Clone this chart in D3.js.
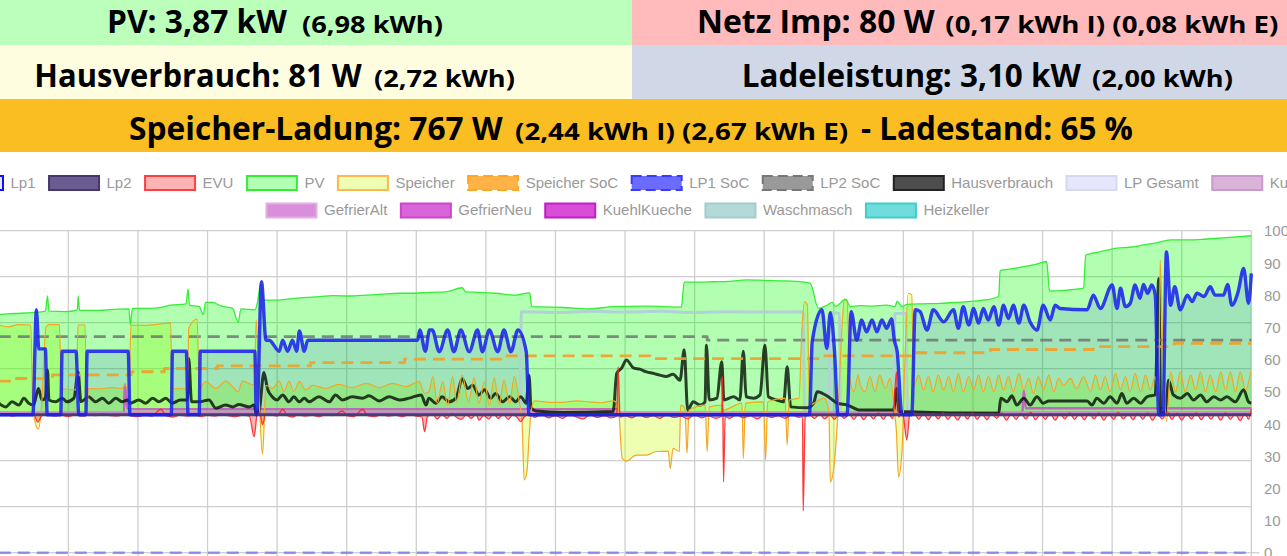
<!DOCTYPE html>
<html><head><meta charset="utf-8">
<script src="https://cdn.jsdelivr.net/npm/d3@7"></script>
<style>html,body{margin:0;padding:0;background:#fff;overflow:hidden}</style>
</head><body>
<svg id="c" width="1287" height="556"></svg>
<script>
// ---------------- DATA ----------------
const headerBig = ["PV: 3,87 kW", "Netz Imp: 80 W", "Hausverbrauch: 81 W", "Ladeleistung: 3,10 kW", "Speicher-Ladung: 767 W"];
const headerSmall = ["(6,98 kWh)", "(0,17 kWh I) (0,08 kWh E)", "(2,72 kWh)", "(2,00 kWh)", "(2,44 kWh I) (2,67 kWh E)"];
const headerTail = ["", "", "", "", "- Ladestand: 65 %"];

const legendNames = ["Lp1","Lp2","EVU","PV","Speicher","Speicher SoC","LP1 SoC","LP2 SoC","Hausverbrauch","LP Gesamt","Kuehlschrank","GefrierAlt","GefrierNeu","KuehlKueche","Waschmasch","Heizkeller"];

const timeTicks = [0,10,20,30,40,50,60,70,80,90,100,110,120,130,140,150,160,170,180];
const powerTicks = [-3,-2,-1,0,1,2,3,4];
const socTicks = [0,10,20,30,40,50,60,70,80,90,100];

// [minute, kW]
const pv = [[0,2.18],[2.4,2.20],[4.8,2.22],[6.7,2.25],[7.0,2.58],[7.2,2.25],[9.6,2.24],[11.3,2.28],[11.4,2.58],[11.6,2.27],[14.4,2.27],[16.5,2.29],[18.7,2.30],[18.9,1.95],[19.2,2.31],[21.6,2.31],[23.5,2.34],[24.7,2.38],[26.9,2.41],[27.2,2.73],[27.4,2.38],[28.8,2.35],[29.4,2.18],[29.7,2.44],[30.7,2.44],[32.0,2.36],[33.6,2.31],[34.4,2.01],[34.8,2.30],[36.8,2.28],[37.2,2.46],[37.6,2.83],[38.1,2.49],[39.8,2.49],[43.2,2.54],[45.5,2.56],[48.0,2.59],[50.5,2.58],[52.8,2.60],[55.0,2.62],[57.6,2.64],[59.8,2.64],[61.9,2.66],[64.2,2.67],[66.6,2.76],[67.1,2.67],[69.0,2.66],[71.4,2.64],[74.3,2.60],[76.3,2.65],[76.6,2.35],[79.0,2.34],[81.1,2.33],[84.9,2.30],[88.3,2.35],[93.1,2.36],[98.1,2.34],[98.5,2.88],[100.5,2.88],[102.7,2.89],[105.0,2.90],[107.5,2.93],[110.0,2.92],[112.3,2.91],[114.5,2.90],[116.6,2.86],[117.8,2.31],[119.0,2.38],[119.8,2.44],[120.2,2.35],[121.7,2.51],[122.4,2.35],[123.8,2.37],[125.5,2.36],[127.6,2.38],[128.8,2.35],[129.1,2.47],[129.8,2.35],[130.5,2.40],[133.0,2.41],[135.3,2.42],[137.5,2.44],[140.1,2.47],[142.0,2.50],[143.7,2.57],[143.9,3.13],[145.5,3.17],[147.3,3.22],[149.0,3.27],[150.6,3.33],[151.0,2.69],[153.5,2.71],[155.9,2.75],[156.2,3.47],[158.5,3.55],[160.7,3.62],[162.5,3.64],[164.5,3.69],[166.5,3.74],[168.4,3.80],[171.0,3.80],[173.6,3.82],[176.5,3.85],[180,3.89]];

const lp1 = [[0,0],[4.9,0],[5.4,2.28],[5.75,1.43],[6.7,1.43],[6.95,0],[8.9,0],[9.1,1.38],[11.1,1.38],[11.5,0],[12.5,0],[12.7,1.38],[18.6,1.38],[18.85,0],[24.8,0],[24.95,1.38],[26.95,1.38],[27.2,0],[28.8,0],[28.95,1.38],[36.8,1.38],[37.0,0],[37.2,0.3],[37.75,2.89],[38.4,1.62],[38.85,1.62],[40.3,1.38],[40.8,1.62],[41.5,1.38],[42.2,1.62],[42.8,1.38],[43.2,1.82],[43.9,1.38],[44.4,1.62],[60.2,1.62],[60.5,1.84],[61.3,1.38],[61.9,1.84],[62.3,1.84],[63.3,1.37],[64.5,1.84],[65.4,1.37],[66.4,1.84],[67.6,1.37],[68.8,1.84],[69.5,1.37],[70.5,1.84],[71.7,1.37],[72.6,1.84],[73.6,1.37],[74.6,1.84],[75.8,1.37],[76.2,0],[116.5,0],[116.9,1.59],[118.3,2.28],[119.0,1.44],[119.5,2.22],[120.1,1.38],[120.6,0],[121.9,0],[122.5,2.24],[123.3,1.62],[124.0,2.06],[124.7,1.80],[125.5,2.06],[126.2,1.80],[126.9,2.06],[127.6,1.88],[128.3,2.08],[128.7,1.62],[129.1,1.38],[129.8,0],[131.2,0],[131.7,2.28],[132.4,2.24],[133.4,1.84],[134.3,2.28],[135.8,2.02],[137.2,2.28],[137.9,1.88],[138.6,2.35],[139.4,1.95],[140.1,2.31],[140.8,1.99],[141.5,2.31],[142.2,2.06],[143.0,2.35],[143.7,1.95],[144.4,2.38],[145.1,2.09],[145.8,2.38],[146.6,1.99],[147.3,2.38],[148.2,2.02],[149.2,1.84],[150.1,2.38],[151.1,2.06],[151.8,2.38],[152.5,2.31],[156.4,2.28],[157.3,2.60],[158.3,2.31],[160.0,2.82],[160.7,2.31],[161.2,2.75],[161.9,2.35],[162.6,2.42],[163.3,2.82],[164.0,2.53],[164.5,2.83],[165.1,2.64],[165.7,2.82],[166.2,2.60],[166.7,0],[167.3,0],[167.8,3.54],[168.4,2.38],[169.0,2.78],[169.8,2.28],[170.8,2.60],[171.5,2.46],[172.2,2.64],[173.2,2.57],[174.1,2.78],[174.8,2.60],[176.0,2.60],[176.6,2.83],[177.2,2.38],[178.1,2.67],[178.9,3.18],[179.6,2.42],[180,3.07]];

const lp2 = [[0,0],[180,0]];

const evu = [[0,-0.02],[1,0.01],[2,-0.03],[3,0.0],[4,-0.02],[5,0.02],[5.6,-0.16],[6.2,-0.02],[7,0.01],[8,-0.03],[9,-0.01],[10,-0.04],[11,0.0],[12,-0.03],[13,-0.01],[14,-0.02],[15,0.02],[16,-0.02],[17,-0.03],[18,0.0],[19,-0.02],[20,-0.04],[21,-0.01],[22,-0.03],[23.3,0.12],[24,-0.02],[25,-0.05],[26,-0.01],[27,-0.03],[28,0.02],[29,-0.04],[30,-0.01],[31,-0.03],[32,0.0],[33,-0.02],[34,-0.04],[35,-0.01],[36,-0.03],[36.7,-0.48],[37.1,-0.02],[37.5,0.05],[37.9,-0.22],[38.3,-0.02],[39,0.01],[40,-0.03],[40.8,0.12],[41.5,-0.02],[42.2,-0.05],[43,0.0],[44,-0.03],[45,-0.01],[46,-0.04],[47,0.0],[48,-0.02],[49.4,0.08],[50,-0.02],[51,-0.04],[52.3,0.12],[53,-0.02],[54,-0.04],[55,0.0],[56,-0.03],[57,-0.01],[58,-0.04],[59,0.0],[60,-0.03],[60.8,-0.05],[61.2,-0.37],[61.6,-0.04],[62.3,0.02],[63.0,-0.09],[63.7,0.01],[64.4,-0.08],[65.1,0.03],[65.8,-0.06],[66.5,-0.10],[67.2,0.0],[67.9,-0.08],[68.6,0.02],[69.0,-0.12],[69.7,-0.02],[70.4,-0.09],[71.1,0.02],[71.8,-0.08],[72.5,0.01],[73.2,-0.10],[73.9,0.0],[74.6,-0.08],[75.0,-0.15],[75.5,-0.05],[76.2,0.02],[77,-0.06],[78,0.01],[79,-0.07],[80,-0.02],[81,-0.08],[82,0.01],[83,-0.05],[84,-0.09],[85,0.0],[86,-0.06],[87,-0.02],[88,-0.07],[88.8,-0.03],[89.0,1.04],[89.3,-0.05],[90,-0.02],[91,-0.07],[92,0.01],[93,-0.06],[94,-0.02],[95,-0.08],[96,0.0],[97,-0.06],[98,-0.03],[99,-0.09],[100,0.0],[101,-0.07],[102,-0.02],[103,-0.08],[103.9,-0.03],[104.0,0.83],[104.15,-1.46],[104.4,-0.04],[105,-0.08],[106,0.0],[107,-0.07],[108,-0.02],[109,-0.09],[110,0.0],[111,-0.06],[112,-0.02],[113,-0.08],[114,0.0],[115,-0.06],[115.5,-0.04],[115.6,-2.09],[115.9,-0.05],[116.5,0.0],[117.2,-0.08],[118,0.01],[118.7,-0.09],[119.4,0.0],[120.1,-0.1],[120.8,0.02],[121.5,-0.08],[122.2,0.01],[122.9,-0.1],[123.6,0.03],[124.3,-0.11],[125.0,0.02],[125.7,-0.09],[126.4,0.04],[127.1,-0.1],[127.8,0.02],[128.5,-0.08],[129.0,0.93],[129.3,-0.05],[129.9,0.02],[130.5,-0.55],[130.9,-0.02],[131.5,0.04],[132.2,-0.1],[132.9,0.02],[133.6,-0.11],[134.3,0.03],[135,-0.09],[135.7,0.04],[136.4,-0.1],[137.1,0.01],[137.8,-0.12],[138.5,0.03],[139.2,-0.09],[139.9,0.04],[140.6,-0.1],[141.3,0.02],[142,-0.11],[142.7,0.03],[143.4,-0.08],[144.1,0.04],[144.8,-0.12],[145.5,0.02],[146.2,-0.1],[146.9,0.03],[147.6,-0.09],[148.3,0.05],[149,-0.11],[149.7,0.02],[150.4,-0.1],[151.1,0.03],[151.8,-0.12],[152.5,0.02],[153.2,-0.09],[153.9,0.04],[154.6,-0.1],[155.3,0.02],[156,-0.11],[156.7,0.03],[157.4,-0.09],[158.1,0.04],[158.8,-0.12],[159.5,0.02],[160.2,-0.1],[160.9,0.05],[161.6,-0.09],[162.3,0.02],[163,-0.11],[163.7,0.03],[164.4,-0.1],[165.1,0.04],[165.8,-0.12],[166.5,0.02],[167.2,-0.09],[167.9,0.06],[168.6,-0.1],[169.3,0.03],[170,-0.12],[170.7,0.02],[171.4,-0.09],[172.1,0.04],[172.8,-0.11],[173.5,0.03],[174.2,-0.1],[174.9,0.02],[175.6,-0.12],[176.3,0.04],[177,-0.1],[177.7,0.02],[178.4,-0.13],[179.1,0.03],[179.6,-0.1],[180,0.12]];

const speicher = [[0,1.95],[1.4,1.91],[2.9,1.96],[4.6,1.95],[4.9,0.10],[5.7,-0.31],[6.1,0.10],[6.8,1.91],[7.2,1.96],[8.7,1.96],[9.0,0.57],[11.1,0.54],[11.4,1.95],[12.4,1.95],[12.6,0.03],[12.9,0.57],[14.4,0.56],[16.3,0.59],[17.7,0.57],[18.1,0.65],[18.7,0.54],[19.0,1.95],[20.6,1.94],[22.5,1.96],[24.7,1.99],[24.9,0.57],[27.1,0.56],[27.3,1.88],[28.5,2.08],[28.8,0.57],[29.7,0.72],[31.2,0.57],[32.6,0.73],[33.6,0.61],[34.4,0.50],[35.0,0.73],[36.7,0.64],[37.0,2.06],[37.5,0.07],[37.9,-0.86],[38.4,0.64],[39.3,0.57],[40.3,0.73],[41.0,0.50],[41.7,0.73],[42.4,0.50],[43.2,0.72],[44.1,0.54],[45.1,0.64],[47.0,0.57],[48.9,0.66],[50.8,0.59],[52.8,0.68],[54.7,0.59],[56.6,0.68],[58.5,0.61],[60.4,0.72],[61.2,0.46],[61.8,0.50],[62.4,0.83],[63.0,0.25],[63.8,0.72],[64.5,0.21],[65.2,0.83],[65.8,0.28],[66.6,0.86],[67.5,0.28],[68.3,0.80],[69.0,0.25],[69.8,0.72],[70.5,0.21],[71.2,0.80],[71.9,0.22],[72.6,0.75],[73.4,0.25],[74.1,0.83],[74.8,0.28],[75.2,-0.15],[75.5,-1.42],[75.9,-1.24],[76.2,-0.51],[76.5,0.07],[77.0,0.30],[79,0.27],[81.1,0.27],[83,0.30],[84.9,0.28],[86.5,0.26],[88.3,0.30],[89.0,0.21],[89.6,-0.95],[90.2,-1.01],[91.6,-0.88],[93.1,-0.88],[94.5,-0.80],[96.2,-0.79],[96.5,-1.17],[96.9,-0.73],[97.8,-0.80],[98.0,0.21],[98.6,0.14],[98.9,-0.84],[99.2,0.10],[101.5,0.21],[101.8,-0.80],[102.1,0.17],[103.9,0.21],[104.1,0.10],[106.8,0.25],[107.0,-0.95],[107.3,0.25],[109.9,0.28],[110.2,-0.98],[110.5,0.28],[113.0,0.36],[113.3,-0.66],[113.6,0.32],[115.0,0.36],[115.4,1.80],[115.8,2.46],[116.2,2.39],[116.5,0.21],[118.6,0.36],[119.3,0.07],[119.5,-1.46],[120.1,-1.02],[120.6,0.07],[121.2,1.95],[121.5,2.51],[121.9,2.49],[122.3,0.79],[122.9,0.50],[123.5,0.86],[123.8,0.64],[124.5,0.50],[125.2,0.83],[125.9,0.50],[126.6,0.86],[127.4,0.57],[128.1,0.79],[128.7,0.10],[129.0,-0.37],[129.3,-1.35],[129.8,-0.80],[130.2,1.08],[130.7,2.64],[131.2,2.61],[131.5,0.64],[132.2,0.86],[132.9,0.54],[133.6,0.83],[134.3,0.50],[135.0,0.86],[135.8,0.54],[136.5,0.83],[137.2,0.50],[137.9,0.90],[138.6,0.50],[139.4,0.83],[140.1,0.54],[140.8,0.86],[141.5,0.50],[142.2,0.83],[143.0,0.50],[143.7,0.86],[144.4,0.54],[145.1,0.83],[145.8,0.50],[146.6,0.90],[147.3,0.54],[148.0,0.79],[148.7,0.46],[149.4,0.83],[150.1,0.54],[150.9,0.86],[151.6,0.50],[152.3,0.79],[153.0,0.64],[154.0,0.79],[154.9,0.57],[155.9,0.83],[156.9,0.50],[157.6,0.86],[158.3,0.54],[159.0,0.83],[159.7,0.50],[160.5,0.90],[161.2,0.54],[161.9,0.83],[162.6,0.50],[163.3,0.90],[164.1,0.50],[164.8,0.86],[165.5,0.54],[166.2,0.83],[166.7,0.21],[166.9,3.36],[167.3,1.37],[167.8,-0.15],[168.4,0.93],[169.1,0.50],[169.8,0.93],[170.5,0.50],[171.3,0.86],[172.0,0.54],[172.7,0.93],[173.4,0.50],[174.1,0.86],[174.9,0.50],[175.6,0.93],[176.3,0.54],[177.0,0.93],[177.7,0.50],[178.4,0.93],[179.2,0.54],[179.9,0.93]];

const haus = [[0,0.25],[1.0,0.17],[1.9,0.28],[2.9,0.21],[3.6,0.36],[4.3,0.25],[5.0,0.21],[5.7,0.57],[6.2,0.32],[6.7,0.36],[7.0,0.97],[7.2,0.32],[8.2,0.28],[9.1,0.36],[9.8,0.28],[10.8,0.36],[11.4,0.93],[11.8,0.28],[12.9,0.39],[13.9,0.28],[14.9,0.36],[15.8,0.25],[16.8,0.36],[17.7,0.28],[18.5,0.32],[18.9,0.25],[20.1,0.32],[21.1,0.25],[22.1,0.36],[23.0,0.28],[24.0,0.36],[24.9,0.25],[26.1,0.32],[27.1,0.32],[27.3,1.22],[27.7,0.28],[28.8,0.28],[30.2,0.32],[31.2,0.14],[32.6,0.21],[33.6,0.17],[34.5,0.22],[36.0,0.17],[36.7,0.21],[37.0,0.03],[37.4,0.07],[38.1,0.92],[38.6,0.57],[39.3,0.39],[40.0,0.32],[40.8,0.43],[41.7,0.28],[42.4,0.39],[43.2,0.28],[43.9,0.36],[44.6,0.28],[46.0,0.39],[47.5,0.28],[48.4,0.43],[49.4,0.32],[50.8,0.39],[52.3,0.36],[53.2,0.41],[54.7,0.30],[56.1,0.39],[57.6,0.32],[59.0,0.36],[60.7,0.43],[61.4,0.21],[61.8,0.36],[62.8,0.25],[63.7,0.39],[64.7,0.28],[65.7,0.36],[66.6,0.78],[67.4,0.57],[68.1,0.64],[69.0,0.43],[69.8,0.54],[70.7,0.36],[71.4,0.46],[72.4,0.28],[73.4,0.39],[74.3,0.28],[75.0,0.39],[75.8,0.25],[76.2,0.86],[76.5,0.15],[77.2,0.08],[81.1,0.05],[88.3,0.07],[88.8,0.90],[89.5,1.01],[90.2,1.19],[91.2,1.02],[92.1,0.99],[93.1,0.93],[94.0,0.90],[95.0,0.86],[95.9,0.83],[96.9,0.88],[97.9,0.75],[98.5,1.41],[99.0,0.10],[99.8,0.28],[100.8,0.21],[101.5,0.28],[101.7,1.51],[102.1,0.32],[103.2,0.36],[103.9,1.15],[104.2,0.32],[105.6,0.39],[106.5,0.32],[107.0,1.38],[107.4,0.39],[108.5,0.36],[109.4,0.43],[110.1,1.51],[110.6,0.39],[111.8,0.32],[112.8,0.28],[113.3,1.04],[113.8,0.17],[116.2,0.15],[117.1,0.25],[117.6,0.50],[119.5,0.36],[120.5,0.25],[121.9,0.21],[123.8,0.10],[128.6,0.10],[129.0,0.57],[129.4,0.07],[143.7,0.03],[144.0,0.36],[144.9,0.28],[145.6,0.41],[146.3,0.21],[147.3,0.36],[148.2,0.21],[149.2,0.39],[150.1,0.25],[150.9,0.30],[156.4,0.30],[157.1,0.21],[157.8,0.36],[158.8,0.25],[159.7,0.39],[160.7,0.25],[161.4,0.46],[162.1,0.25],[163.1,0.36],[164.1,0.25],[165.0,0.39],[166.2,0.43],[166.7,2.96],[167.0,0.03],[167.7,0.07],[168.1,0.75],[168.8,0.43],[169.8,0.36],[170.8,0.46],[171.7,0.32],[172.7,0.43],[173.6,0.28],[174.6,0.39],[175.6,0.32],[176.5,0.39],[177.7,0.28],[178.9,0.54],[179.6,0.28],[180,0.25]];

// LP Gesamt equals Lp1 here (Lp2 delivers nothing)
const lpGesamt = lp1;

const waschmasch = [[0,0],[74.9,0],[75.1,2.24],[80,2.22],[85,2.25],[90,2.23],[95,2.25],[100,2.22],[105,2.24],[110,2.23],[115.6,2.24],[115.8,0],[119.3,0],[119.5,2.22],[120.8,2.20],[121.0,0],[128.6,0],[128.8,2.20],[130.4,2.20],[130.6,0],[180,0]];
const gefrierAlt = [[0,0.05],[180,0.05]];
const gefrierNeu = [[0,0.02],[18.0,0.02],[18.1,0.66],[18.5,0.12],[89.0,0.12],[89.2,0.02],[147.1,0.02],[147.3,0.52],[147.6,0.14],[180,0.14]];
const kuehlKueche = [[0,0.03],[180,0.03]];
const heizkeller = [[0,0.01],[180,0.01]];
const kuehlschrank = [[0,0.04],[180,0.04]];

// [minute, %]
const speicherSoc = [[0,53.3],[1.9,54.1],[7.7,55.2],[19.0,56.2],[23.8,57.2],[31.4,58.0],[44.8,59.0],[58.3,60.1],[72.2,61.1],[93.6,60.3],[118,61.1],[131.4,62.1],[142.5,63.1],[157.3,64.0],[168.9,65.0],[180,65.0]];
const lp1Soc = [[0,0],[180,0]];
const lp2Soc = [[0,67.1],[101.3,67.1],[101.8,66.0],[180,66.0]];

// ---------------- STYLES ----------------
const seriesData = {"Lp1":lp1,"Lp2":lp2,"EVU":evu,"PV":pv,"Speicher":speicher,"Speicher SoC":speicherSoc,"LP1 SoC":lp1Soc,"LP2 SoC":lp2Soc,"Hausverbrauch":haus,"LP Gesamt":lpGesamt,"Kuehlschrank":kuehlschrank,"GefrierAlt":gefrierAlt,"GefrierNeu":gefrierNeu,"KuehlKueche":kuehlKueche,"Waschmasch":waschmasch,"Heizkeller":heizkeller};
const style = {
 "Lp1":{box:"rgba(0,0,255,0.1)",border:"#1010ff",line:"rgba(20,30,235,0.85)",lw:3.4,fill:"rgba(0,0,255,0.1)"},
 "Lp2":{box:"#6b5b8f",border:"#45386e",line:"#4a3c78",lw:3},
 "EVU":{box:"#ffb3b3",border:"#ff4040",line:"rgba(255,30,30,0.85)",lw:1.3,fill:"rgba(255,0,0,0.3)"},
 "PV":{box:"#b3ffb3",border:"#33ee33",line:"#33ee33",lw:1.3,fill:"rgba(0,255,0,0.3)"},
 "Speicher":{box:"#eeffb3",border:"#ffb84d",line:"#f5a623",lw:1.2,fill:"rgba(200,255,0,0.3)"},
 "Speicher SoC":{box:"#ffb347",border:"#ffa626",line:"rgba(240,160,40,0.9)",lw:2.8,dash:"12,7"},
 "LP1 SoC":{box:"#6b6bff",border:"#3a3aff",line:"rgba(110,110,240,0.7)",lw:2.6,dash:"12,7"},
 "LP2 SoC":{box:"#999999",border:"#777777",line:"rgba(110,110,110,0.8)",lw:2.8,dash:"12,7"},
 "Hausverbrauch":{box:"#4d4d4d",border:"#222222",line:"rgba(0,10,0,0.78)",lw:3},
 "LP Gesamt":{box:"#e6e6ff",border:"#d8d8ee",line:"rgba(220,220,255,0.8)",lw:2},
 "Kuehlschrank":{box:"#d9b3d9",border:"#cc99cc",line:"rgba(200,140,200,0.8)",lw:2.5},
 "GefrierAlt":{box:"#d98fd9",border:"#e3aee3",line:"rgba(210,130,210,0.8)",lw:2.5},
 "GefrierNeu":{box:"#d966d9",border:"#cc44cc",line:"rgba(200,80,200,0.85)",lw:2.5},
 "KuehlKueche":{box:"#d94dd9",border:"#c020c0",line:"rgba(190,40,190,0.8)",lw:2.5},
 "Waschmasch":{box:"#b3d9d9",border:"#a3cccc",line:"#b0d2d4",lw:3},
 "Heizkeller":{box:"#70dcdc",border:"#40cccc",line:"rgba(64,204,204,0.8)",lw:2.5}
};
const socSeries = new Set(["Speicher SoC","LP1 SoC","LP2 SoC"]);
const stepSeries = new Set(["Speicher SoC","LP2 SoC"]);

// ---------------- DRAW ----------------
const svg = d3.select("#c");

// Header
const cells = [
 {x:0,y:0,w:632,h:45,bg:"#bbffbb",base:33.3,seg:[[107,287],[302,443]]},
 {x:632,y:0,w:655,h:45,bg:"#ffbbbb",base:33.3,seg:[[697,934.7],[945.3,1278.7]]},
 {x:0,y:45,w:632,h:54,bg:"#fffde0",base:87.3,seg:[[34.3,361.7],[374,515]]},
 {x:632,y:45,w:655,h:54,bg:"#d0d8e8",base:87.3,seg:[[741.7,1081],[1092,1233]]},
 {x:0,y:99,w:1287,h:53,bg:"#fbbe22",base:140,seg:[[129,502.7],[515,848.3],[861,1133]]}
];
cells.forEach(c => svg.append("rect").attr("x",c.x).attr("y",c.y).attr("width",c.w).attr("height",c.h).attr("fill",c.bg));
function fitText(str, size, x0, x1, base){
  const t = svg.append("text").attr("font-family","'Open Sans', 'Noto Sans', sans-serif").attr("font-weight",700)
    .attr("font-size",size).attr("fill","#000").text(str);
  const len = t.node().getComputedTextLength();
  t.attr("transform",`translate(${x0},${base}) scale(${(x1-x0)/len},1)`);
}
cells.forEach((c,i) => {
  fitText(headerBig[i], 32.5, c.seg[0][0], c.seg[0][1], c.base);
  fitText(headerSmall[i], 22.5, c.seg[1][0], c.seg[1][1], c.base);
  if (headerTail[i]) fitText(headerTail[i], 32.5, c.seg[2][0], c.seg[2][1], c.base);
});

// Scales
const area = {left:-1.2, right:1251.3, top:230.7, bottom:552.7};
const x = d3.scaleLinear().domain([0,180]).range([area.left, area.right]);
const yP = d3.scaleLinear().domain([-3,4]).range([area.bottom, area.top]);
const yS = d3.scaleLinear().domain([0,100]).range([area.bottom, area.top]);

// Grid
const grid = svg.append("g").attr("stroke","#cfcfcf").attr("stroke-width",1.3);
grid.selectAll("line.h").data(powerTicks).join("line").attr("class","h")
  .attr("x1",area.left).attr("x2",area.right).attr("y1",d=>yP(d)).attr("y2",d=>yP(d));
grid.selectAll("line.v").data(timeTicks).join("line").attr("class","v")
  .attr("x1",d=>x(d)).attr("x2",d=>x(d)).attr("y1",area.top).attr("y2",560);
grid.append("line").attr("x1",area.right).attr("x2",area.right+8).attr("y1",yS(0)).attr("y2",yS(0));

// Right axis
const ax = svg.append("g").attr("transform",`translate(${area.right},0)`)
  .call(d3.axisRight(yS).tickValues(socTicks).tickSize(0).tickPadding(12.7));
ax.select(".domain").remove();
ax.selectAll("text").attr("font-family","'Liberation Sans', Arial, sans-serif").attr("font-size",15).attr("fill","#9a9a9a").attr("dy","0.35em");

// Clip
svg.append("clipPath").attr("id","clip").append("rect")
  .attr("x",area.left).attr("y",area.top-3).attr("width",area.right-area.left+2).attr("height",area.bottom-area.top+5);
const plot = svg.append("g").attr("clip-path","url(#clip)");

const order = legendNames.slice().reverse();
// fills first (all of them), then lines
order.forEach(name => {
  const st = style[name];
  if (!st.fill) return;
  const a = d3.area().x(d=>x(d[0])).y0(yP(0)).y1(d=>yP(d[1])).curve(d3.curveMonotoneX);
  plot.append("path").datum(seriesData[name]).attr("d",a).attr("fill",st.fill);
});
order.forEach(name => {
  const st = style[name];
  const ys = socSeries.has(name) ? yS : yP;
  const l = d3.line().x(d=>x(d[0])).y(d=>ys(d[1])).curve(stepSeries.has(name) ? d3.curveStepAfter : d3.curveMonotoneX);
  const p = plot.append("path").datum(seriesData[name]).attr("d",l).attr("fill","none")
    .attr("stroke",st.line).attr("stroke-width",st.lw).attr("stroke-linejoin","round");
  if (st.dash) p.attr("stroke-dasharray",st.dash);
});

// Legend
const legend = svg.append("g").attr("font-family","'Liberation Sans', Arial, sans-serif").attr("font-size",15);
const rows = [{names:legendNames.slice(0,11), x0:-47, y:176, base:187.7},
              {names:legendNames.slice(11), x0:266.5, y:203.5, base:215.2}];
rows.forEach(r => {
  let cx = r.x0;
  r.names.forEach(name => {
    const st = style[name];
    const rc = legend.append("rect").attr("x",cx).attr("y",r.y).attr("width",50).attr("height",14)
      .attr("fill",st.box).attr("stroke",st.border).attr("stroke-width",2);
    if (st.dash) rc.attr("stroke-dasharray","10,5");
    const t = legend.append("text").attr("x",cx+57.5).attr("y",r.base).attr("fill","#999").text(name);
    const w = t.node().getComputedTextLength();
    cx += 50 + 7.5 + w + 13.5;
  });
});
</script>
</body></html>
